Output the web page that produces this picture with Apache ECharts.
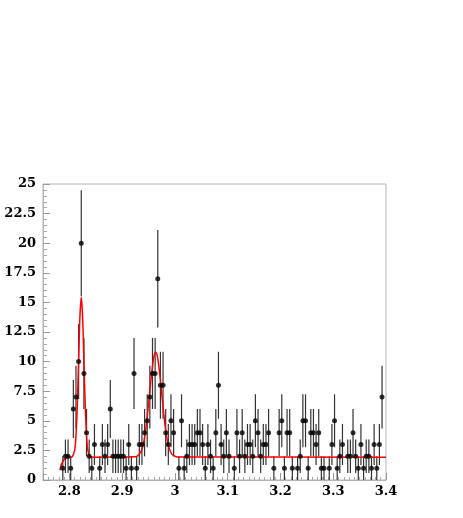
<!DOCTYPE html>
<html>
<head>
<meta charset="utf-8">
<script src="https://cdn.jsdelivr.net/npm/echarts@6/dist/echarts.min.js"></script>
<style>
  html, body { margin: 0; padding: 0; background: #fff; }
  #main { width: 463px; height: 518px; }
</style>
</head>
<body>
<div id="main"></div>
<script>
// histogram: first bin centre and bin width
var binStart = 2.7875;
var binWidth = 0.005;
// entries per bin (0 = empty bin, not drawn)
var counts = [
  1, 2, 2, 1, 6, 7, 10, 20, 9, 4,
  2, 1, 3, 0, 1, 3, 2, 3, 6, 2,
  2, 2, 2, 2, 1, 3, 1, 9, 1, 3,
  3, 4, 5, 7, 9, 9, 17, 8, 8, 4,
  3, 5, 4, 0, 1, 5, 1, 2, 3, 3,
  3, 4, 4, 3, 1, 3, 2, 1, 4, 8,
  3, 2, 4, 2, 0, 1, 4, 2, 4, 2,
  3, 3, 2, 5, 4, 2, 3, 3, 4, 0,
  1, 0, 4, 5, 1, 4, 4, 1, 0, 1,
  2, 5, 5, 1, 4, 4, 3, 4, 1, 1,
  0, 1, 3, 5, 1, 2, 3, 0, 2, 2,
  4, 2, 1, 3, 1, 2, 2, 1, 3, 1,
  3, 7
];
// fitted curve (red)
var fitX = [2.782, 2.785, 2.79, 2.795, 2.80, 2.805, 2.81, 2.8125, 2.815, 2.8175,
  2.82, 2.8225, 2.825, 2.8275, 2.83, 2.8325, 2.835, 2.84, 2.845, 2.925,
  2.935, 2.94, 2.945, 2.95, 2.955, 2.96, 2.9635, 2.967, 2.972, 2.977,
  2.982, 2.987, 2.992, 2.997, 3.005, 3.4];
var fitY = [0.83, 1.32, 1.73, 1.87, 1.91, 1.95, 2.52, 3.76, 6.31, 10.12,
  13.84, 15.43, 13.84, 10.12, 6.31, 3.76, 2.52, 1.95, 1.93, 1.96,
  2.34, 3.02, 4.36, 6.37, 8.66, 10.38, 10.78, 10.38, 8.66, 6.37,
  4.36, 3.02, 2.34, 2.07, 1.94, 1.93];

var points = [];
var errors = [];
counts.forEach(function (n, i) {
  if (n <= 0) return;
  var x = Number((binStart + i * binWidth).toFixed(4));
  var e = Math.sqrt(n);
  points.push([x, n]);
  errors.push([x, n - e, n + e]);
});
var fitData = fitX.map(function (x, i) { return [x, fitY[i]]; });

var labelFont = {
  fontFamily: 'DejaVu Serif',
  fontWeight: 'bold',
  fontSize: 13,
  color: '#000'
};
var frame = '#b4b4b4';

var myChart = echarts.init(document.getElementById('main'), null, { renderer: 'canvas' });
var option = {
  animation: false,
  grid: {
    left: 43, right: 77, top: 184, bottom: 38,
    show: true, borderColor: frame, borderWidth: 1, backgroundColor: '#fff'
  },
  xAxis: {
    type: 'value',
    min: 2.75,
    max: 3.4,
    minInterval: 0.1,
    maxInterval: 0.1,
    axisLine: { lineStyle: { color: frame } },
    axisTick: { inside: true, length: 7, lineStyle: { color: '#999' } },
    minorTick: { show: true, splitNumber: 10, length: 3, lineStyle: { color: '#aaa' } },
    splitLine: { show: false },
    axisLabel: Object.assign({
      margin: 5,
      formatter: function (v) {
        var r = Math.round(v * 10) / 10;
        if (Math.abs(r - v) > 1e-6) return '';
        return String(r);
      }
    }, labelFont)
  },
  yAxis: {
    type: 'value',
    min: 0,
    max: 25,
    interval: 2.5,
    axisLine: { show: true, lineStyle: { color: frame } },
    axisTick: { inside: true, length: 7, lineStyle: { color: '#999' } },
    minorTick: { show: true, splitNumber: 5, length: 4, lineStyle: { color: '#aaa' } },
    splitLine: { show: false },
    axisLabel: Object.assign({ margin: 7 }, labelFont)
  },
  series: [
    {
      // statistical error bars
      type: 'custom',
      data: errors,
      encode: { x: 0, y: [1, 2] },
      renderItem: function (params, api) {
        var p1 = api.coord([api.value(0), api.value(1)]);
        var p2 = api.coord([api.value(0), api.value(2)]);
        return {
          type: 'line',
          shape: { x1: p1[0], y1: p1[1], x2: p2[0], y2: p2[1] },
          style: { stroke: '#333', lineWidth: 1.2 }
        };
      },
      z: 2
    },
    {
      type: 'line',
      data: fitData,
      showSymbol: false,
      smooth: 0.3,
      lineStyle: { color: '#ff0000', width: 1.5 },
      z: 3
    },
    {
      type: 'scatter',
      data: points,
      symbol: 'circle',
      symbolSize: 5,
      itemStyle: { color: '#000' },
      z: 4
    }
  ]
};
myChart.setOption(option);
</script>
</body>
</html>
